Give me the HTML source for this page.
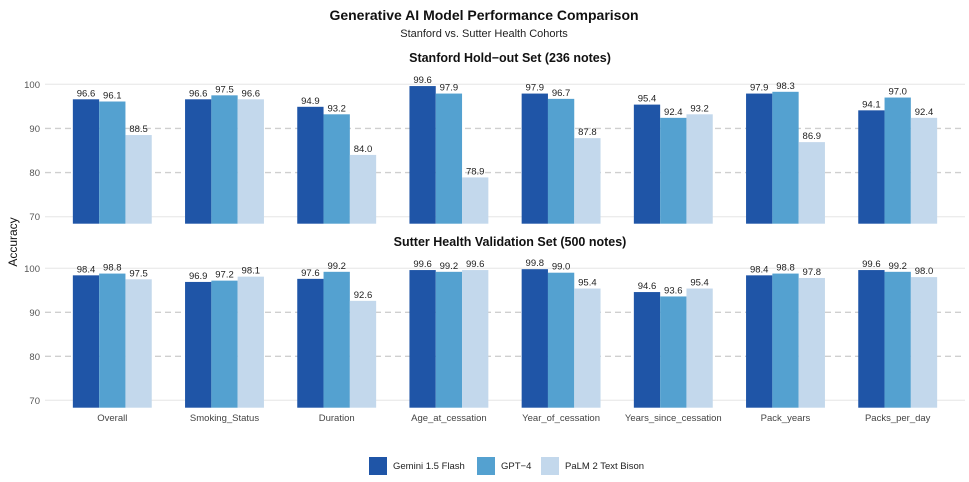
<!DOCTYPE html>
<html><head><meta charset="utf-8"><style>
body{margin:0;background:#fff;font-family:"Liberation Sans",Arial,sans-serif;}
svg text{font-family:"Liberation Sans",Arial,sans-serif;}
</style></head><body>
<svg id="chart" width="969" height="477" xmlns="http://www.w3.org/2000/svg">
<text x="484" y="20" text-anchor="middle" font-size="14" font-weight="bold" fill="#111">Generative AI Model Performance Comparison</text>
<text x="484" y="37" text-anchor="middle" font-size="11" fill="#222">Stanford vs. Sutter Health Cohorts</text>
<text transform="translate(17,242) rotate(-90)" text-anchor="middle" font-size="12" fill="#111">Accuracy</text>
<g id="panels"></g>
<g>
<rect x="369" y="457" width="18" height="18" fill="#1f55a7"/>
<text x="393" y="469" font-size="9.5" fill="#222">Gemini 1.5 Flash</text>
<rect x="477" y="457" width="18" height="18" fill="#54a1d0"/>
<text x="501" y="469" font-size="9.5" fill="#222">GPT−4</text>
<rect x="541" y="457" width="18" height="18" fill="#c3d8ec"/>
<text x="565" y="469" font-size="9.5" fill="#222">PaLM 2 Text Bison</text>
</g>
</svg>
<script>
const categories = ["Overall","Smoking_Status","Duration","Age_at_cessation","Year_of_cessation","Years_since_cessation","Pack_years","Packs_per_day"];
const seriesNames = ["Gemini 1.5 Flash","GPT-4","PaLM 2 Text Bison"];
const stanfordGemini = [96.6,96.6,94.9,99.6,97.9,95.4,97.9,94.1];
const stanfordGpt4 = [96.1,97.5,93.2,97.9,96.7,92.4,98.3,97.0];
const stanfordPalm = [88.5,96.6,84.0,78.9,87.8,93.2,86.9,92.4];
const sutterGemini = [98.4,96.9,97.6,99.6,99.8,94.6,98.4,99.6];
const sutterGpt4 = [98.8,97.2,99.2,99.2,99.0,93.6,98.8,99.2];
const sutterPalm = [97.5,98.1,92.6,99.6,95.4,95.4,97.8,98.0];
const yTicks = [70,80,90,100];
const panelTitles = ["Stanford Hold−out Set (236 notes)","Sutter Health Validation Set (500 notes)"];

const colors = ["#1f55a7","#54a1d0","#c3d8ec"];
const NS = "http://www.w3.org/2000/svg";
const g = document.getElementById("panels");
const panels = [
  {y100:84.3, y70:216.7, bottom:223.7, titleY:62, data:[stanfordGemini,stanfordGpt4,stanfordPalm], key:"stanford"},
  {y100:268.3, y70:400.3, bottom:407.7, titleY:246, data:[sutterGemini,sutterGpt4,sutterPalm], key:"sutter"}
];
function mk(tag, attrs){const e=document.createElementNS(NS,tag);for(const k in attrs)e.setAttribute(k,attrs[k]);return e;}
const x0 = 112.3, step = 112.2, bw = 26.3;
function xCenter(i){return x0 + i*step;}
panels.forEach((p, pi) => {
  const yScale = v => p.y70 + (v-70)*(p.y100-p.y70)/30;
  const t = mk("text",{x:510,y:p.titleY,"text-anchor":"middle","font-size":"12.5","font-weight":"bold",fill:"#111"});
  
  
  t.textContent = panelTitles[pi]; g.appendChild(t);
  yTicks.forEach(v => {
    const y = yScale(v);
    const dashed = (v===80||v===90);
    const l = mk("line",{x1:45,x2:965,y1:y,y2:y,stroke:dashed?"#cfcfcf":"#e6e6e6","stroke-width":dashed?1.3:1});
    if(dashed) l.setAttribute("stroke-dasharray","6,4");
    
    
    g.appendChild(l);
    const tl = mk("text",{x:40,y:y+3.5,"text-anchor":"end","font-size":"9.5",fill:"#555"});
    
    
    tl.textContent = v; g.appendChild(tl);
  });
  categories.forEach((c, ci) => {
    p.data.forEach((series, si) => {
      const v = series[ci];
      const x = xCenter(ci) - 1.5*bw + si*bw;
      const y = yScale(v);
      const r = mk("rect",{x:x,y:y,width:bw,height:p.bottom-y,fill:colors[si]});
      
      
      g.appendChild(r);
      const lb = mk("text",{x:x+bw/2,y:y-3,"text-anchor":"middle","font-size":"9.5",fill:"#222"});
      
      
      lb.textContent = v.toFixed(1); g.appendChild(lb);
    });
    if(pi===1){
      const xl = mk("text",{x:xCenter(ci),y:421,"text-anchor":"middle","font-size":"9.5",fill:"#444"});
      
      
      xl.textContent = c; g.appendChild(xl);
    }
  });
});
</script>
</body></html>
